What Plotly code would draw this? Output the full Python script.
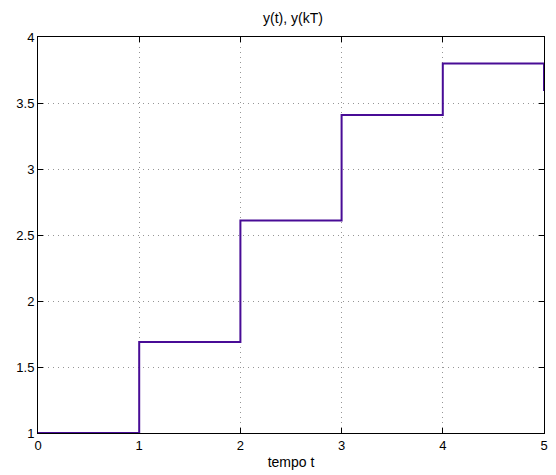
import plotly.graph_objects as go

# Sampled response y(kT), held between samples
t_samples = [0, 1, 2, 3, 4, 5]
y_samples = [1.0, 1.69, 2.61, 3.41, 3.80, 3.59]

x_ticks = [0, 1, 2, 3, 4, 5]
y_ticks = [1, 1.5, 2, 2.5, 3, 3.5, 4]
y_tick_labels = ["1", "1.5", "2", "2.5", "3", "3.5", "4"]

family = "Liberation Sans, Arial, sans-serif"
font = dict(family=family, size=13, color="black")

fig = go.Figure()
fig.add_trace(go.Scatter(
    x=t_samples, y=y_samples, mode="lines", line_shape="hv",
    line=dict(color="rgb(72,12,150)", width=2), showlegend=False,
    cliponaxis=False,
))

axis_common = dict(
    showline=True, linecolor="black", linewidth=1, mirror="allticks",
    ticks="inside", ticklen=5, tickcolor="black",
    showgrid=True, gridcolor="rgb(150,150,150)", griddash="1px,4px", gridwidth=1,
    zeroline=False, tickfont=font, layer="below traces",
)

fig.update_layout(
    width=556, height=475,
    margin=dict(l=38, r=8, t=37, b=37),
    paper_bgcolor="white", plot_bgcolor="white",
    font=font,
    title=dict(text="y(t), y(kT)", x=0.527, xanchor="center", y=0.962, yanchor="middle",
               font=dict(family=family, size=14)),
    xaxis=dict(range=[0, 5], tickvals=x_ticks, **axis_common,
               title=dict(text="tempo t", standoff=5, font=dict(family=family, size=14))),
    yaxis=dict(range=[1, 4], tickvals=y_ticks, ticktext=y_tick_labels, **axis_common),
)

fig.write_html("out.html")
